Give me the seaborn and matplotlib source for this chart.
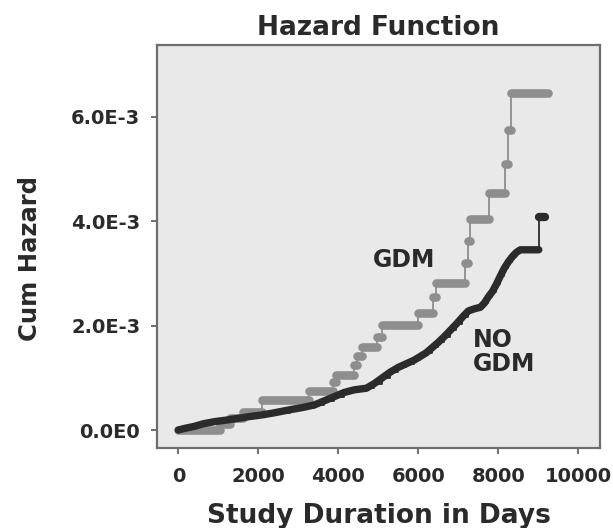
import matplotlib
matplotlib.use("Agg")
import matplotlib.pyplot as plt
import seaborn as sns
import pandas as pd

# ---------------- data ----------------
# GDM group: step times (days) and cumulative hazard after each step
gdm_days = [0, 1040, 1300, 1620, 2100, 3270, 3875, 3950, 4380, 4470, 4600, 4960, 5100,
            5980, 6375, 6430, 7170, 7230, 7300, 7760, 8170, 8240, 8310]
gdm_cumhaz = [0.0, 0.00012, 0.00023, 0.00035, 0.00057, 0.00074, 0.00092, 0.00105, 0.00124,
              0.00141, 0.00159, 0.00179, 0.00201, 0.00224, 0.00255, 0.00281, 0.00319,
              0.00362, 0.00403, 0.00453, 0.00510, 0.00575, 0.00646]
gdm_end = 9230

# NO GDM group
nogdm_days = [0, 150, 400, 625, 900, 1200, 1460, 1800, 2100, 2400, 2800, 3100, 3400, 3650,
              3900, 4150, 4400, 4700, 4900, 5100, 5300, 5500, 5700, 5900, 6050, 6200, 6350,
              6500, 6650, 6800, 6950, 7100, 7250, 7400, 7550, 7650, 7750, 7850, 7950, 8050,
              8150, 8250, 8350, 8450, 8550, 9010]
nogdm_cumhaz = [0.0, 0.00003, 0.00007, 0.00012, 0.00016, 0.00019, 0.00022, 0.00026, 0.00029,
                0.00033, 0.00039, 0.00043, 0.00048, 0.00056, 0.00064, 0.00072, 0.00077,
                0.00080, 0.00089, 0.00100, 0.00111, 0.00120, 0.00127, 0.00134, 0.00141,
                0.00148, 0.00158, 0.00168, 0.00179, 0.00191, 0.00203, 0.00216, 0.00228,
                0.00232, 0.00235, 0.00243, 0.00255, 0.00265, 0.00279, 0.00295, 0.00310,
                0.00322, 0.00332, 0.00340, 0.00345, 0.00408]
nogdm_end = 9160

x_ticks = [0, 2000, 4000, 6000, 8000, 10000]
x_tick_labels = ["0", "2000", "4000", "6000", "8000", "10000"]
y_ticks = [0.0, 0.002, 0.004, 0.006]
y_tick_labels = ["0.0E0", "2.0E-3", "4.0E-3", "6.0E-3"]

title = "Hazard Function"
x_label = "Study Duration in Days"
y_label = "Cum Hazard"
group_labels = ["GDM", "NO\nGDM"]

# ---------------- style ----------------
sns.set_theme(style="white")
plt.rcParams["font.family"] = ["DejaVu Sans"]
plt.rcParams["font.weight"] = "bold"

GDM_COLOR = "#8e8e8e"
NOGDM_COLOR = "#2b2b2b"
TEXT_COLOR = "#2a2a2a"


def step_frame(days, vals, end):
    return pd.DataFrame({"x": list(days) + [end], "y": list(vals) + [vals[-1]]})


def segment_frame(days, vals, end):
    xs, ys, seg = [], [], []
    nxt = list(days[1:]) + [end]
    for i, (a, b, v) in enumerate(zip(days, nxt, vals)):
        xs += [a, b]
        ys += [v, v]
        seg += [i, i]
    return pd.DataFrame({"x": xs, "y": ys, "seg": seg})


fig = plt.figure(figsize=(6.13, 5.28), dpi=100)
ax = fig.add_axes([0.2561, 0.1515, 0.7227, 0.7633])
ax.set_facecolor("#e9e9e9")

# GDM: thin step line + thick horizontal bars (censoring marks)
sns.lineplot(data=step_frame(gdm_days, gdm_cumhaz, gdm_end), x="x", y="y", ax=ax,
             drawstyle="steps-post", color=GDM_COLOR, lw=1.3, estimator=None, sort=False)
sns.lineplot(data=segment_frame(gdm_days, gdm_cumhaz, gdm_end), x="x", y="y", units="seg",
             ax=ax, estimator=None, sort=False, color=GDM_COLOR, lw=6.2,
             solid_capstyle="round")

# NO GDM: thin step line overall, thick band for the dense portion, blob for the last step
sns.lineplot(data=step_frame(nogdm_days, nogdm_cumhaz, nogdm_end), x="x", y="y", ax=ax,
             drawstyle="steps-post", color=NOGDM_COLOR, lw=1.3, estimator=None, sort=False)
sns.lineplot(data=step_frame(nogdm_days[:-1], nogdm_cumhaz[:-1], nogdm_days[-1]), x="x", y="y",
             ax=ax, color=NOGDM_COLOR, lw=5.3, estimator=None,
             sort=False, solid_capstyle="round", solid_joinstyle="round")
sns.lineplot(data=segment_frame(nogdm_days[-1:], nogdm_cumhaz[-1:], nogdm_end), x="x", y="y",
             units="seg", ax=ax, estimator=None, sort=False, color=NOGDM_COLOR, lw=6,
             solid_capstyle="round")

ax.text(5650, 0.00325, group_labels[0], fontsize=17, fontweight="bold", ha="center",
        va="center", color=TEXT_COLOR)
ax.text(7370, 0.00149, group_labels[1], fontsize=17, fontweight="bold", ha="left",
        va="center", color=TEXT_COLOR, linespacing=1.0)

ax.set_xlim(-533, 10540)
ax.set_ylim(-0.000344, 0.00737)
ax.set_xticks(x_ticks)
ax.set_xticklabels(x_tick_labels, fontweight="bold")
ax.set_yticks(y_ticks)
ax.set_yticklabels(y_tick_labels, fontweight="bold")
ax.tick_params(axis="both", direction="out", length=4, width=1.2, color="#555555",
               labelsize=14, labelcolor=TEXT_COLOR, bottom=True, left=True)
ax.tick_params(axis="x", pad=10)
ax.tick_params(axis="y", pad=8)
for s in ax.spines.values():
    s.set_visible(True)
    s.set_color("#6e6e6e")
    s.set_linewidth(1.6)

ax.set_xlabel(x_label, fontsize=19, fontweight="bold", color=TEXT_COLOR, labelpad=12)
ax.set_ylabel(y_label, fontsize=17.5, fontweight="bold", color=TEXT_COLOR)
ax.yaxis.set_label_coords(-0.26, 0.47)
ax.set_title(title, fontsize=19, fontweight="bold", color=TEXT_COLOR, pad=7)

fig.savefig("out.png", dpi=100)
